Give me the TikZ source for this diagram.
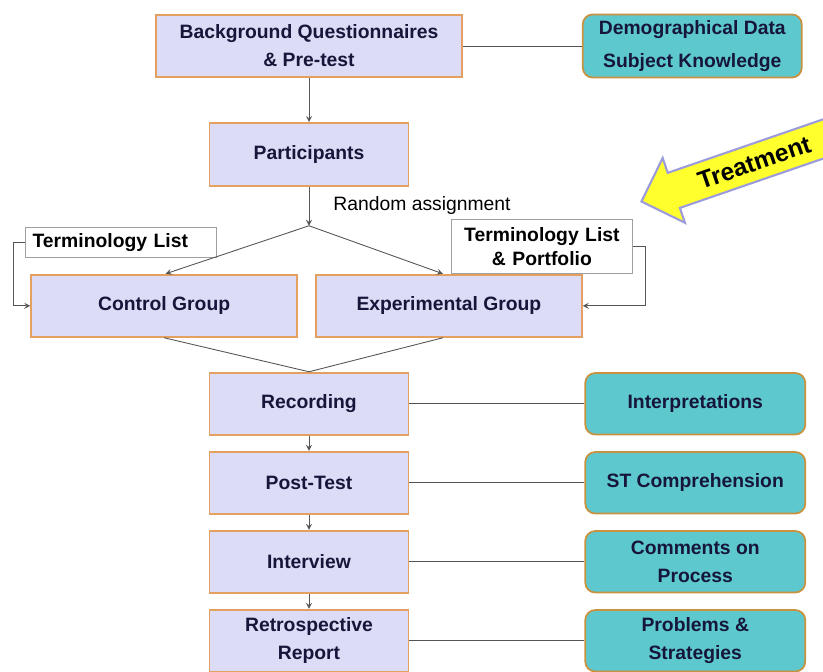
\documentclass[tikz,border=0pt]{standalone}
\usepackage{fontspec}
\setmainfont{Liberation Sans}
\usetikzlibrary{shapes,arrows,positioning,calc}
\definecolor{stagecol}{HTML}{DCDCF6}
\definecolor{edgecol}{HTML}{E4A060}
\definecolor{datacol}{HTML}{5EC8CF}
\definecolor{dataedgecol}{HTML}{C8923E}
\definecolor{inkcol}{HTML}{16163A}
\definecolor{linkcol}{HTML}{555555}
\definecolor{notecol}{HTML}{A0A0A0}
\definecolor{treatcol}{HTML}{FFFF2E}
\definecolor{glowcol}{HTML}{9C9CDC}
\tikzstyle{link} = [->,linkcol,line width=.5pt]
\tikzstyle{plain} = [-,linkcol,line width=.5pt]
\tikzset{
  basic box/.style = {
    shape = rectangle,
    draw,
    align=center,
    text=inkcol,
    font=\bfseries\fontsize{11}{16}\selectfont,
    },
  stage box/.style = {
    basic box,
    draw = edgecol,
    fill = stagecol,
    line width = 1pt,
    minimum width = #1,
    minimum height = 1.245cm,
    },
  stage box/.default = 3.98cm,
  data box/.style = {
    basic box,
    rounded corners = .2cm,
    draw = dataedgecol,
    fill = datacol,
    line width = 1pt,
    minimum width = 4.4cm,
    minimum height = 1.23cm,
    },
  note box/.style = {
    basic box,
    text = black,
    draw = notecol,
    fill = white,
    line width = .4pt,
    },
  treat arrow/.style = {
    single arrow,
    shape border rotate = 180,
    draw = glowcol,
    line width = 1.2pt,
    fill = treatcol,
    minimum height = 4.4cm,
    minimum width = 1.37cm,
    single arrow head extend = .29cm,
    inner sep = .15cm,
    font = \bfseries\fontsize{14}{16}\selectfont,
    text = black,
    },
}

\begin{document}
\begin{tikzpicture}[>=stealth]
    \clip (0,0) rectangle (16.46,-13.42);

    % top
    \node [stage box=6.12cm] (bq) at (6.18,-0.92) {Background Questionnaires\\ \& Pre-test};
    \node [data box, minimum width=4.38cm, minimum height=1.26cm,
           font=\bfseries\fontsize{11}{19}\selectfont, right=2.38cm of bq] (demo)
          {\raisebox{-2pt}{Demographical Data}\\ \raisebox{-2pt}{Subject Knowledge}};
    \node [stage box, minimum height=1.26cm, below=0.88cm of bq] (part) {Participants};

    % assignment
    \coordinate [below=0.78cm of part] (split);
    \node [anchor=base west, inner sep=0pt, font=\fontsize{11}{13}\selectfont]
          (ra) at ([xshift=.48cm,yshift=.3cm]split) {Random assignment};

    \node [stage box=5.32cm, below left=0.96cm and 0.22cm of split] (control) {Control Group};
    \node [stage box=5.32cm, below right=0.96cm and 0.12cm of split] (exper) {Experimental Group};

    \node [note box, anchor=south west, align=left, text width=3.54cm, minimum height=.6cm,
           inner xsep=.14cm, inner ysep=0pt] (tl)
          at ([xshift=-.1cm,yshift=.32cm]control.north west) {Terminology List};
    \node [note box, anchor=south east, text width=3.62cm, minimum height=1.08cm,
           inner sep=0pt, font=\bfseries\fontsize{11}{14}\selectfont] (tlp)
          at ([xshift=1cm]exper.north east) {Terminology List\\ \& Portfolio};

    % stages
    \node [stage box, below=3.7cm of part] (rec) {Recording};
    \node [stage box, below=0.3cm of rec] (post) {Post-Test};
    \node [stage box, below=0.3cm of post] (intv) {Interview};
    \node [stage box, below=0.3cm of intv] (retro) {Retrospective\\ Report};

    \node [data box, right=3.5cm of rec] (interp) {Interpretations};
    \node [data box, right=3.5cm of post] (stc) {ST Comprehension};
    \node [data box, right=3.5cm of intv] (comm) {Comments on\\ Process};
    \node [data box, right=3.5cm of retro] (prob) {Problems \&\\ Strategies};

    % treatment
    \node [treat arrow, rotate=19, anchor=tip] (treat) at (12.8,-4.04) {Treatment};

    % Paths
    \draw[plain] (bq.east) -- (demo.west);
    \draw[link] (bq.south) -- (part.north);
    \draw[link] (part.south) -- (split);
    \draw[link] (split) -- ([xshift=.03cm]control.north);
    \draw[link] (split) -- ([xshift=-.12cm]exper.north);

    \draw[link] (tl.west) -- ++(-.24,0) |- (control.west);
    \draw[link] (tlp.east) -- ++(.26,0) |- (exper.east);

    \draw[plain] (control.south) -- (rec.north);
    \draw[plain] ([xshift=-.12cm]exper.south) -- (rec.north);

    \draw[link] (rec.south) -- (post.north);
    \draw[link] (post.south) -- (intv.north);
    \draw[link] (intv.south) -- (retro.north);

    \draw[plain] (rec.east) -- (interp.west);
    \draw[plain] (post.east) -- (stc.west);
    \draw[plain] (intv.east) -- (comm.west);
    \draw[plain] (retro.east) -- (prob.west);
\end{tikzpicture}
\end{document}
